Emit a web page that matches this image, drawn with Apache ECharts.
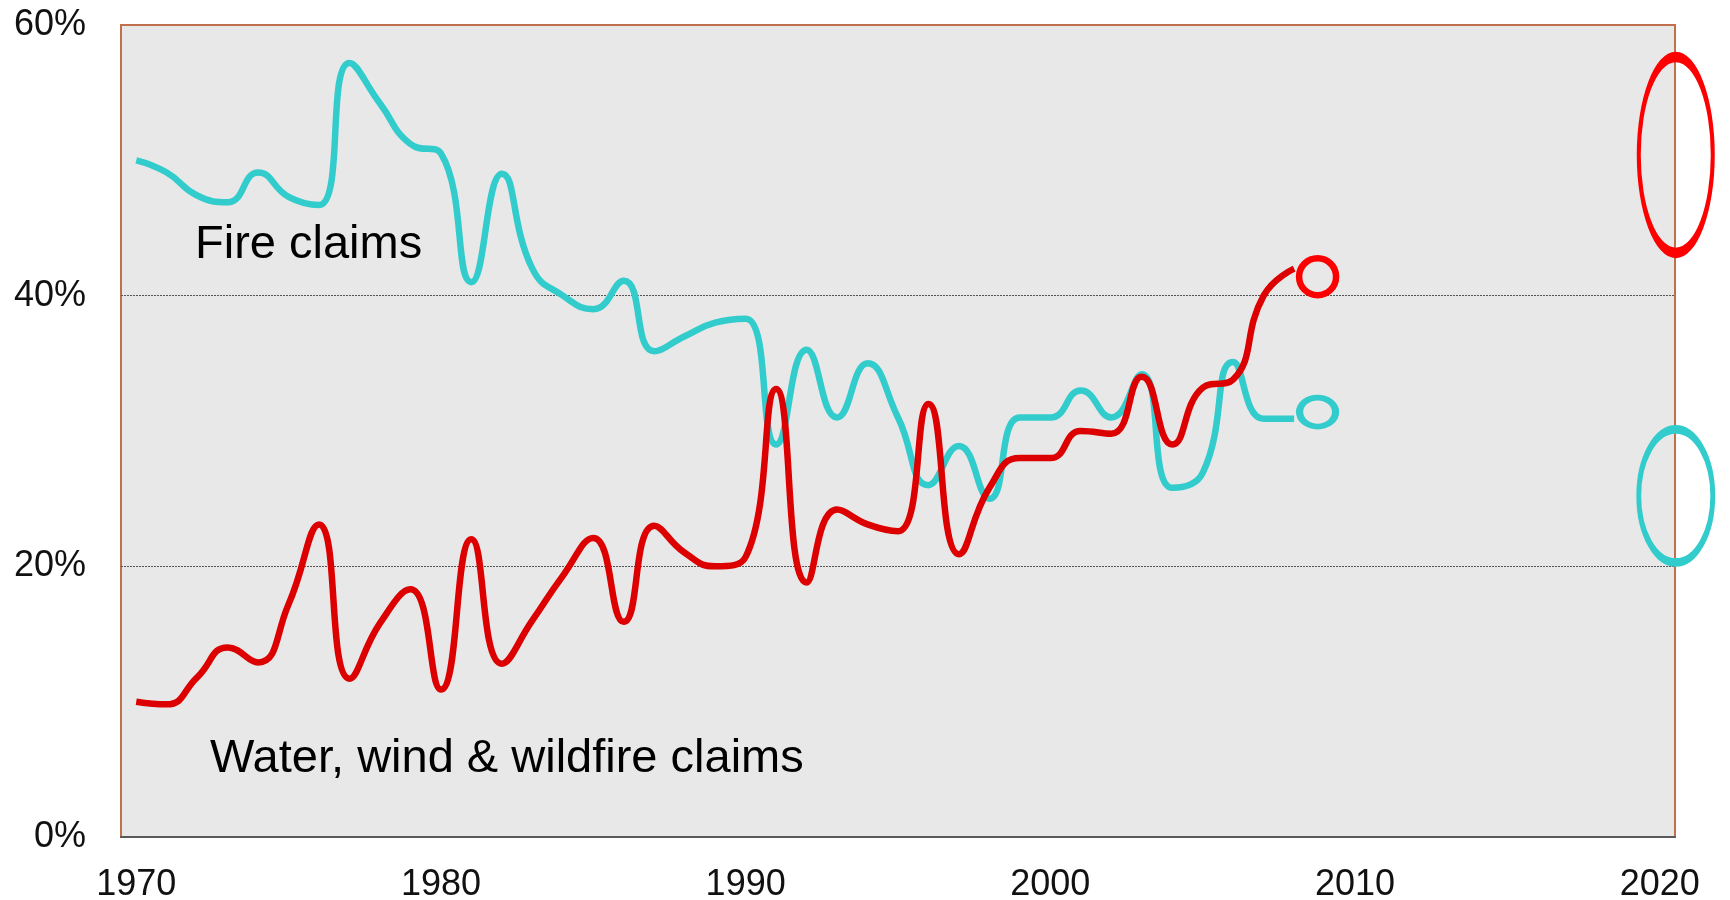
<!DOCTYPE html>
<html>
<head>
<meta charset="utf-8">
<title>Fire vs water, wind & wildfire claims</title>
<script src="https://cdn.jsdelivr.net/npm/echarts@6/dist/echarts.min.js"></script>
<style>
  html, body { margin: 0; padding: 0; background: #fff; }
  #chart { width: 1730px; height: 900px; }
</style>
</head>
<body>
<div id="chart"></div>
<script>
// categories 1970..2020
const years = [];
for (let y = 1970; y <= 2020; y++) years.push(String(y));

// share of claims, %, 1970..2008
const fireClaims = [
  50.0, 49.1, 47.4, 46.9, 49.1, 47.3, 46.7, 57.2, 54.2, 51.2,
  50.5, 41.0, 49.0, 42.0, 40.0, 39.0, 41.1, 35.9, 37.0, 38.0,
  38.3, 29.0, 36.0, 31.0, 35.0, 31.0, 26.0, 28.9, 25.0, 31.0,
  31.0, 33.0, 31.0, 34.2, 25.8, 26.9, 35.1, 30.9, 30.9
];
const weatherClaims = [
  10.0, 9.8, 11.8, 14.0, 12.9, 17.2, 23.1, 11.7, 15.8, 18.3,
  10.9, 22.0, 12.8, 16.0, 19.3, 22.1, 15.9, 23.0, 21.0, 20.0,
  20.7, 33.1, 18.8, 24.2, 23.1, 22.6, 32.0, 20.9, 25.8, 28.0,
  28.0, 30.0, 29.8, 34.0, 29.0, 33.2, 33.8, 40.0, 42.0
];

// circled values: latest year and 2020 outlook
const ringYear = '2009';
const fireRing = 31.4;
const weatherRing = 41.4;
const outlookYear = '2020';
const fireOutlook = 25.2;
const weatherOutlook = 50.4;

const yTicks = [0, 20, 40, 60];

const CYAN = '#33CCCC';
const RED_LINE = '#DD0000';
const RED = '#FF0000';
const PLOT_BG = '#E8E8E8';

// ellipse that stretches to symbolSize
const ellipse = 'path://M50,0 C77.6,0 100,22.4 100,50 C100,77.6 77.6,100 50,100 C22.4,100 0,77.6 0,50 C0,22.4 22.4,0 50,0 Z';

const font = 'Liberation Sans, Arial, sans-serif';

const option = {
  animation: false,
  grid: {
    left: 121,
    right: 55,
    top: 25,
    bottom: 63,
    outerBoundsMode: 'none',
    containLabel: false,
    show: true,
    backgroundColor: PLOT_BG,
    borderColor: '#C0704A',
    borderWidth: 2
  },
  xAxis: {
    type: 'category',
    data: years,
    boundaryGap: true,
    axisLine: { lineStyle: { color: '#595959', width: 2 } },
    axisTick: { show: false },
    axisLabel: {
      interval: 9,
      fontSize: 36,
      fontFamily: font,
      color: '#111',
      margin: 30
    },
    splitLine: { show: false }
  },
  yAxis: {
    type: 'value',
    min: yTicks[0],
    max: yTicks[yTicks.length - 1],
    interval: 20,
    axisLine: { show: false },
    axisTick: { show: false },
    axisLabel: {
      formatter: '{value}%',
      fontSize: 36,
      fontFamily: font,
      color: '#111',
      margin: 35
    },
    splitLine: {
      show: true,
      showMinLine: false,
      showMaxLine: false,
      lineStyle: { color: '#555', width: 1, type: [2, 1] }
    }
  },
  graphic: [
    {
      type: 'text',
      left: 195,
      top: 222,
      style: { text: 'Fire claims', fontSize: 47, fontFamily: font, fill: '#000' }
    },
    {
      type: 'text',
      left: 210,
      top: 736,
      style: { text: 'Water, wind & wildfire claims', fontSize: 47, fontFamily: font, fill: '#000' }
    }
  ],
  series: [
    {
      name: 'Fire claims',
      type: 'line',
      data: fireClaims,
      smooth: 0.5,
      showSymbol: false,
      lineStyle: { color: CYAN, width: 6.5 },
      z: 2
    },
    {
      name: 'Water, wind & wildfire claims',
      type: 'line',
      data: weatherClaims,
      smooth: 0.5,
      showSymbol: false,
      lineStyle: { color: RED_LINE, width: 6.5 },
      z: 3
    },
    {
      type: 'scatter',
      data: [[ringYear, fireRing]],
      symbol: ellipse,
      symbolSize: [36, 29],
      symbolOffset: [-7, 0],
      itemStyle: { color: PLOT_BG, borderColor: CYAN, borderWidth: 6.5, opacity: 1 },
      z: 4
    },
    {
      type: 'scatter',
      data: [[ringYear, weatherRing]],
      symbol: ellipse,
      symbolSize: [37, 37],
      symbolOffset: [-7, 0],
      itemStyle: { color: PLOT_BG, borderColor: RED, borderWidth: 6.5, opacity: 1 },
      z: 4
    },
    {
      type: 'scatter',
      data: [[outlookYear, weatherOutlook]],
      symbol: ellipse,
      symbolSize: [74, 196],
      symbolOffset: [16, 0],
      clip: false,
      itemStyle: { color: 'transparent', borderColor: RED, borderWidth: 6.5, opacity: 1 },
      z: 4
    },
    {
      type: 'scatter',
      data: [[outlookYear, fireOutlook]],
      symbol: ellipse,
      symbolSize: [74, 133],
      symbolOffset: [16, 0],
      clip: false,
      itemStyle: { color: 'transparent', borderColor: CYAN, borderWidth: 6.5, opacity: 1 },
      z: 4
    }
  ]
};

const chart = echarts.init(document.getElementById('chart'));
chart.setOption(option);
</script>
</body>
</html>
